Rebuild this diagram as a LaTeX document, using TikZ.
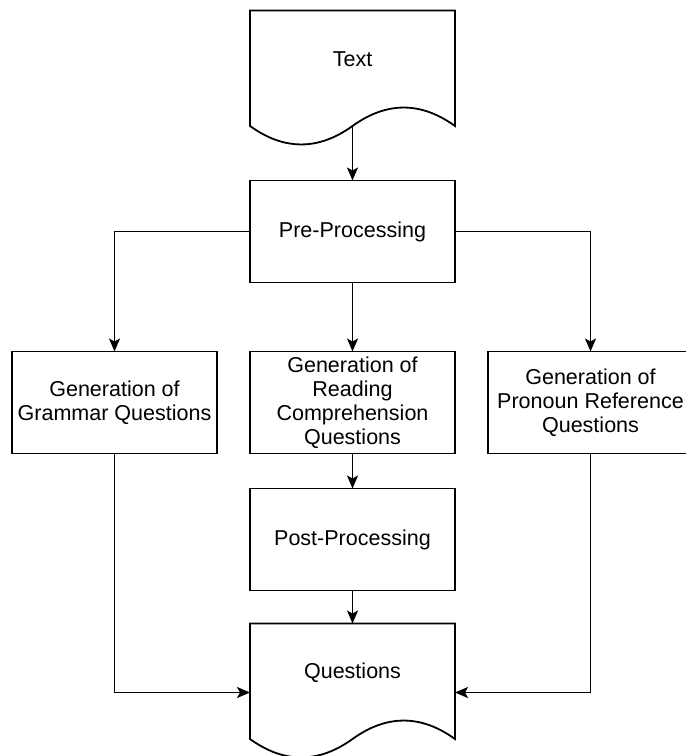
\documentclass[tikz,border=0pt]{standalone}
\usepackage{fontspec}
\setmainfont{Liberation Sans}
\usetikzlibrary{positioning,calc,arrows.meta}

\tikzset{
box/.style={draw, line width=1.8bp, minimum width=205bp, minimum height=102bp, inner sep=0pt, outer sep=0pt, align=center, font=\fontsize{21.6}{24}\selectfont},
doc/.style={box, draw=none, minimum height=98bp},
line/.style={line width=1.8bp},
arr/.style={line, -{Stealth[length=13bp,width=11bp,inset=3bp]}}
}

% paper with a wavy lower edge round a doc node
\newcommand{\docwave}[1]{%
\draw[line] (#1.north west) -- (#1.north east) -- ($(#1.south east)+(0,17.5)$)
 .. controls ($(#1.south east)+(-34.2,-7.1)$) and ($(#1.south)+(34.2,-7.1)$) .. ($(#1.south)+(0,17.5)$) coordinate (#1w)
 .. controls ($(#1.south)+(-34.2,42.1)$) and ($(#1.south west)+(34.2,42.1)$) .. ($(#1.south west)+(0,17.5)$) -- cycle;}

\begin{document}
\begin{tikzpicture}[x=1bp,y=-1bp]
\useasboundingbox (0,0) rectangle (686,756);

\node[box] (pre) at (352.5,231.5) {Pre-Processing}; \node[doc, above=72bp of pre] (txt) {Text};
\node[box, below=69bp of pre] (mid) {Generation of\\Reading\\Comprehension\\Questions};
\node[box, left=33bp of mid] (gram) {Generation of\\Grammar Questions}; \node[box, right=33bp of mid] (pron) {Generation of\\Pronoun Reference\\Questions};
\node[box, below=35bp of mid] (post) {Post-Processing}; \node[doc, below=33bp of post] (qst) {Questions};

\docwave{txt} \docwave{qst}

\draw[arr] (txtw) -- (pre);
\draw[arr] (pre) -| (gram); \draw[arr] (pre) -- (mid); \draw[arr] (pre) -| (pron);
\draw[arr] (mid) -- (post); \draw[arr] (post) -- (qst);
\draw[arr] (gram) |- ($(qst.west)+(0,20)$); \draw[arr] (pron) |- ($(qst.east)+(0,20)$);

\end{tikzpicture}
\end{document}
